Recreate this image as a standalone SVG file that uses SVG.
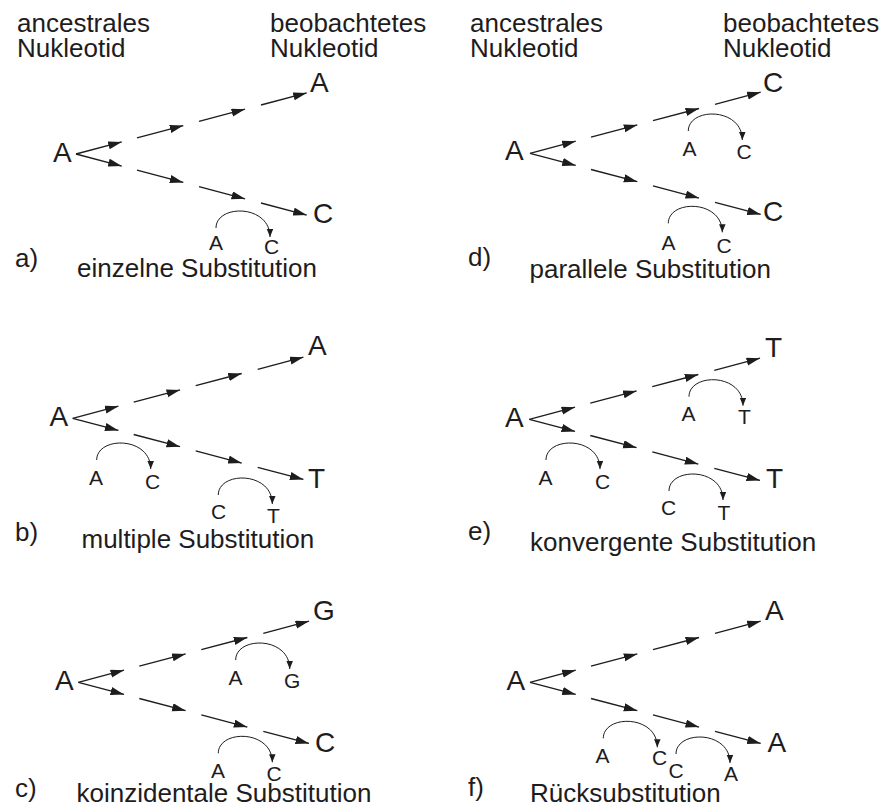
<svg xmlns="http://www.w3.org/2000/svg" width="885" height="808" viewBox="0 0 885 808">
  <defs>
    <style>
      text { font-family: "Liberation Sans", Arial, Helvetica, sans-serif; fill: #1e1c1d; }
      .h { font-size: 26px; }
      .cap { font-size: 26px; }
      .big { font-size: 28px; }
      .sm { font-size: 21px; }
      .ln { stroke: #1e1c1d; stroke-width: 1.35; fill: none; marker-end: url(#ah); }
      .arc { stroke: #1e1c1d; stroke-width: 1; fill: none; marker-end: url(#ahs); }
    </style>
    <marker id="ah" markerUnits="userSpaceOnUse" markerWidth="15" markerHeight="9" refX="13.5" refY="4.1" orient="auto">
      <path d="M0,0 L13.5,4.1 L0,8.2 z" fill="#1e1c1d"/>
    </marker>
    <marker id="ahs" markerUnits="userSpaceOnUse" markerWidth="9" markerHeight="7" refX="8" refY="3.25" orient="auto">
      <path d="M0,0 L8,3.25 L0,6.5 z" fill="#1e1c1d"/>
    </marker>
  </defs>
  <rect width="885" height="808" fill="#ffffff"/>

  <!-- Panel a -->
  <g id="panel-a">
    <g id="a-head-anc"><text class="h" x="17" y="31.5">ancestrales</text><text class="h" x="17" y="57">Nukleotid</text></g>
    <g id="a-head-obs"><text class="h" x="270" y="31.5">beobachtetes</text><text class="h" x="270" y="57">Nukleotid</text></g>
    <g id="a-root"><text class="big" x="53" y="162">A</text></g>
    <g id="a-leaf-up"><text class="big" x="310" y="92">A</text></g>
    <g id="a-leaf-down"><text class="big" x="313" y="223">C</text></g>
    <g id="a-sub1-from"><text class="sm" x="209" y="250">A</text></g>
    <g id="a-sub1-to"><text class="sm" x="264" y="254">C</text></g>
    <g id="a-caption"><text class="cap" x="15" y="267">a)</text><text class="cap" x="77" y="277">einzelne Substitution</text></g>
    <g id="a-connectors">
      <g transform="translate(76,154)">
        <path class="ln" d="M0,0 L45.7,-12.1"/><path class="ln" d="M61,-16.2 L107.3,-28.4"/>
        <path class="ln" d="M123,-32.6 L169,-44.8"/><path class="ln" d="M185,-49 L230.7,-61.1"/>
        <path class="ln" d="M0,0 L45.7,12.1"/><path class="ln" d="M61,16.2 L107.3,28.4"/>
        <path class="ln" d="M123,32.6 L169,44.8"/><path class="ln" d="M185,49 L230.7,61.1"/>
      </g>
      <path class="arc" transform="translate(216,228)" d="M0,0 C0,-24 54,-24 54,9"/>
    </g>
  </g>

  <!-- Panel b -->
  <g id="panel-b">
    <g id="b-root"><text class="big" x="49.5" y="426">A</text></g>
    <g id="b-leaf-up"><text class="big" x="308" y="355">A</text></g>
    <g id="b-leaf-down"><text class="big" x="308" y="488">T</text></g>
    <g id="b-sub1-from"><text class="sm" x="89" y="485">A</text></g>
    <g id="b-sub1-to"><text class="sm" x="145" y="488.5">C</text></g>
    <g id="b-sub2-from"><text class="sm" x="211" y="518.5">C</text></g>
    <g id="b-sub2-to"><text class="sm" x="267" y="522.5">T</text></g>
    <g id="b-caption"><text class="cap" x="15" y="541">b)</text><text class="cap" x="81.5" y="548">multiple Substitution</text></g>
    <g id="b-connectors">
      <g transform="translate(72.7,418.3)">
        <path class="ln" d="M0,0 L45.7,-12.1"/><path class="ln" d="M61,-16.2 L107.3,-28.4"/>
        <path class="ln" d="M123,-32.6 L169,-44.8"/><path class="ln" d="M185,-49 L230.7,-61.1"/>
        <path class="ln" d="M0,0 L45.7,12.1"/><path class="ln" d="M61,16.2 L107.3,28.4"/>
        <path class="ln" d="M123,32.6 L169,44.8"/><path class="ln" d="M185,49 L230.7,61.1"/>
      </g>
      <path class="arc" transform="translate(96.7,460)" d="M0,0 C0,-24 54,-24 54,9"/>
      <path class="arc" transform="translate(218.3,495)" d="M0,0 C0,-24 54,-24 54,9"/>
    </g>
  </g>

  <!-- Panel c -->
  <g id="panel-c">
    <g id="c-root"><text class="big" x="55" y="689.5">A</text></g>
    <g id="c-leaf-up"><text class="big" x="313" y="620">G</text></g>
    <g id="c-leaf-down"><text class="big" x="315" y="751.5">C</text></g>
    <g id="c-sub1-from"><text class="sm" x="228.5" y="684.5">A</text></g>
    <g id="c-sub1-to"><text class="sm" x="284" y="688">G</text></g>
    <g id="c-sub2-from"><text class="sm" x="211" y="778">A</text></g>
    <g id="c-sub2-to"><text class="sm" x="266.5" y="781">C</text></g>
    <g id="c-caption"><text class="cap" x="15" y="797">c)</text><text class="cap" x="76.5" y="802">koinzidentale Substitution</text></g>
    <g id="c-connectors">
      <g transform="translate(78.3,682.3)">
        <path class="ln" d="M0,0 L45.7,-12.1"/><path class="ln" d="M61,-16.2 L107.3,-28.4"/>
        <path class="ln" d="M123,-32.6 L169,-44.8"/><path class="ln" d="M185,-49 L230.7,-61.1"/>
        <path class="ln" d="M0,0 L45.7,12.1"/><path class="ln" d="M61,16.2 L107.3,28.4"/>
        <path class="ln" d="M123,32.6 L169,44.8"/><path class="ln" d="M185,49 L230.7,61.1"/>
      </g>
      <path class="arc" transform="translate(235.7,660)" d="M0,0 C0,-24 54,-24 54,9"/>
      <path class="arc" transform="translate(218.3,753.3)" d="M0,0 C0,-24 54,-24 54,9"/>
    </g>
  </g>

  <!-- Panel d -->
  <g id="panel-d">
    <g id="d-head-anc"><text class="h" x="470" y="31.5">ancestrales</text><text class="h" x="470" y="57">Nukleotid</text></g>
    <g id="d-head-obs"><text class="h" x="723" y="31.5">beobachtetes</text><text class="h" x="723" y="57">Nukleotid</text></g>
    <g id="d-root"><text class="big" x="505" y="160">A</text></g>
    <g id="d-leaf-up"><text class="big" x="763" y="91.5">C</text></g>
    <g id="d-leaf-down"><text class="big" x="763" y="220.5">C</text></g>
    <g id="d-sub1-from"><text class="sm" x="682.5" y="156">A</text></g>
    <g id="d-sub1-to"><text class="sm" x="736.5" y="159">C</text></g>
    <g id="d-sub2-from"><text class="sm" x="661.5" y="250">A</text></g>
    <g id="d-sub2-to"><text class="sm" x="716.5" y="253">C</text></g>
    <g id="d-caption"><text class="cap" x="468" y="265.5">d)</text><text class="cap" x="529.5" y="278">parallele Substitution</text></g>
    <g id="d-connectors">
      <g transform="translate(530,153.3)">
        <path class="ln" d="M0,0 L45.7,-12.1"/><path class="ln" d="M61,-16.2 L107.3,-28.4"/>
        <path class="ln" d="M123,-32.6 L169,-44.8"/><path class="ln" d="M185,-49 L230.7,-61.1"/>
        <path class="ln" d="M0,0 L45.7,12.1"/><path class="ln" d="M61,16.2 L107.3,28.4"/>
        <path class="ln" d="M123,32.6 L169,44.8"/><path class="ln" d="M185,49 L230.7,61.1"/>
      </g>
      <path class="arc" transform="translate(688.3,131)" d="M0,0 C0,-24 54,-24 54,9"/>
      <path class="arc" transform="translate(668.3,223.3)" d="M0,0 C0,-24 54,-24 54,9"/>
    </g>
  </g>

  <!-- Panel e -->
  <g id="panel-e">
    <g id="e-root"><text class="big" x="505" y="426.5">A</text></g>
    <g id="e-leaf-up"><text class="big" x="765" y="357">T</text></g>
    <g id="e-leaf-down"><text class="big" x="766" y="488">T</text></g>
    <g id="e-sub1-from"><text class="sm" x="538.5" y="485">A</text></g>
    <g id="e-sub1-to"><text class="sm" x="595" y="488.5">C</text></g>
    <g id="e-sub2-from"><text class="sm" x="681.5" y="420.5">A</text></g>
    <g id="e-sub2-to"><text class="sm" x="738" y="424">T</text></g>
    <g id="e-sub3-from"><text class="sm" x="661" y="515">C</text></g>
    <g id="e-sub3-to"><text class="sm" x="717.5" y="519.5">T</text></g>
    <g id="e-caption"><text class="cap" x="468" y="540">e)</text><text class="cap" x="530" y="551">konvergente Substitution</text></g>
    <g id="e-connectors">
      <g transform="translate(529.3,419.3)">
        <path class="ln" d="M0,0 L45.7,-12.1"/><path class="ln" d="M61,-16.2 L107.3,-28.4"/>
        <path class="ln" d="M123,-32.6 L169,-44.8"/><path class="ln" d="M185,-49 L230.7,-61.1"/>
        <path class="ln" d="M0,0 L45.7,12.1"/><path class="ln" d="M61,16.2 L107.3,28.4"/>
        <path class="ln" d="M123,32.6 L169,44.8"/><path class="ln" d="M185,49 L230.7,61.1"/>
      </g>
      <path class="arc" transform="translate(689,396.7)" d="M0,0 C0,-24 54,-24 54,9"/>
      <path class="arc" transform="translate(546,460)" d="M0,0 C0,-24 54,-24 54,9"/>
      <path class="arc" transform="translate(669,491)" d="M0,0 C0,-24 54,-24 54,9"/>
    </g>
  </g>

  <!-- Panel f -->
  <g id="panel-f">
    <g id="f-root"><text class="big" x="506.5" y="689.5">A</text></g>
    <g id="f-leaf-up"><text class="big" x="765" y="620">A</text></g>
    <g id="f-leaf-down"><text class="big" x="767.5" y="751.5">A</text></g>
    <g id="f-sub1-from"><text class="sm" x="595.5" y="762.5">A</text></g>
    <g id="f-sub1-to"><text class="sm" x="652" y="765">C</text></g>
    <g id="f-sub2-from"><text class="sm" x="668.5" y="778">C</text></g>
    <g id="f-sub2-to"><text class="sm" x="724" y="781">A</text></g>
    <g id="f-caption"><text class="cap" x="468" y="796">f)</text><text class="cap" x="530" y="802">Rücksubstitution</text></g>
    <g id="f-connectors">
      <g transform="translate(530,682.3)">
        <path class="ln" d="M0,0 L45.7,-12.1"/><path class="ln" d="M61,-16.2 L107.3,-28.4"/>
        <path class="ln" d="M123,-32.6 L169,-44.8"/><path class="ln" d="M185,-49 L230.7,-61.1"/>
        <path class="ln" d="M0,0 L45.7,12.1"/><path class="ln" d="M61,16.2 L107.3,28.4"/>
        <path class="ln" d="M123,32.6 L169,44.8"/><path class="ln" d="M185,49 L230.7,61.1"/>
      </g>
      <path class="arc" transform="translate(603.3,738.3)" d="M0,0 C0,-24 54,-24 54,9"/>
      <path class="arc" transform="translate(676,754)" d="M0,0 C0,-24 54,-24 54,9"/>
    </g>
  </g>
</svg>
